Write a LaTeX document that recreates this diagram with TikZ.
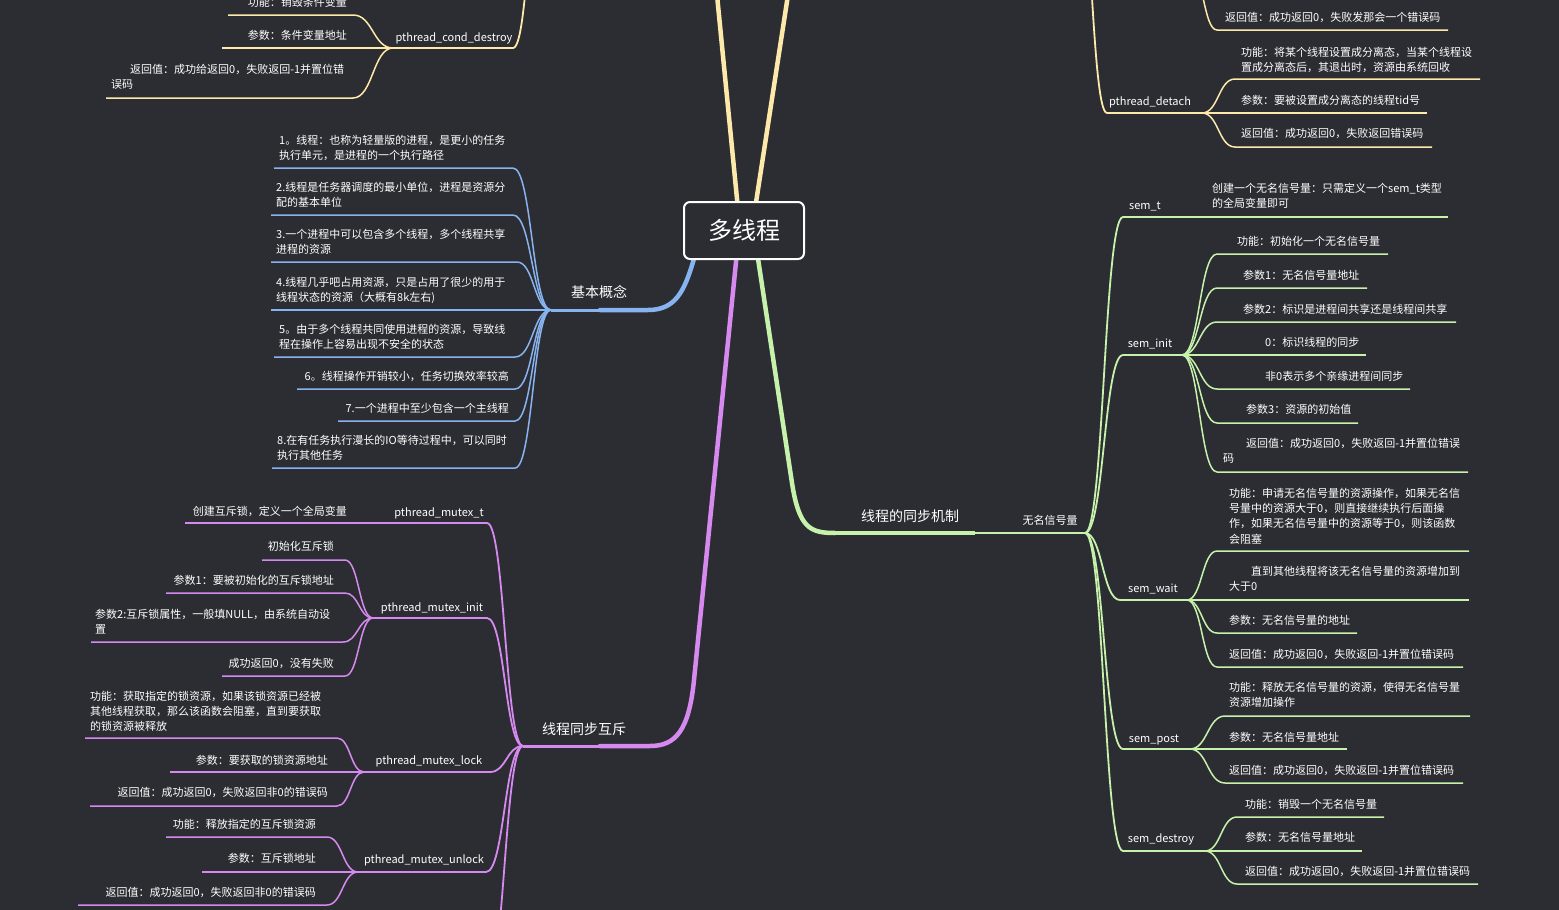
\documentclass[tikz,border=0pt]{standalone}
\usepackage{fontspec}
\setmainfont{Noto Sans CJK SC}
\usetikzlibrary{calc}
\definecolor{bg}{RGB}{44,45,50}
\definecolor{cy}{RGB}{253,234,170}
\definecolor{cb}{RGB}{135,180,240}
\definecolor{cp}{RGB}{214,138,240}
\definecolor{cg}{RGB}{198,242,172}
\pgfdeclarelayer{back}
\pgfdeclarelayer{lines}
\pgfsetlayers{back,lines,main}
\tikzset{
  tx/.style={inner sep=0pt,text=white,font=\fontsize{11}{15.3}\selectfont,yshift=6.65pt},
  tl/.style={tx,anchor=north west,align=left},
  tr/.style={tx,anchor=north east,align=left},
  tc/.style={tx,anchor=north},
  bigl/.style={inner sep=0pt,text=white,font=\fontsize{14}{17}\selectfont,anchor=north,yshift=6.6pt},
  trunk/.style={line width=4.5pt,line cap=round},
  sub/.style={line width=1.8pt},
  lf/.style={line width=1.5pt},
}
\newcommand\mmlink[3][]{\draw[#1] let \p1=(#2),\p2=(#3) in (#2) .. controls ({(\x1+\x2)/2},\y1) and ({(\x1+\x2)/2},\y2) .. (#3);}
\newcommand\mmleaf[6][]{\coordinate (#3a) at (#4,#6);\coordinate (#3b) at (#5,#6);%
  \draw[lf,#1] let \p1=(#2),\p2=(#3a) in (#2) .. controls ({(\x1+\x2)/2},\y1) and ({(\x1+\x2)/2},\y2) .. (#3a) -- (#3b);}
\begin{document}
\begin{tikzpicture}[x=1pt,y=-1pt]
\begin{pgfonlayer}{back}
\fill[bg] (0,0) rectangle (1559,910);
\end{pgfonlayer}
\useasboundingbox (0,0) rectangle (1559,910);
\clip (0,0) rectangle (1559,910);

% root
\node[draw=white,line width=2pt,rounded corners=6pt,fill=bg,minimum width=120pt,minimum height=57pt,inner sep=0pt,text=white,font=\fontsize{24}{28}\selectfont] (root) at (744,230.5) {多线程};

\begin{pgfonlayer}{lines}
% ---------- yellow trunks ----------
\coordinate (yB) at (717,-5);
\coordinate (yD) at (788,-5);
\draw[cy,trunk] ($(root.north)+(-6,8)$) -- (yB);
\draw[cy,trunk] ($(root.north)+(11,8)$) -- (yD);

% ---------- blue trunk ----------
\coordinate (bB) at (693,262);
\coordinate (bC) at (648,310);
\coordinate (bD) at (600,310);
\coordinate (bJ) at (551,310);
\draw[cb,trunk] ($(root.south)+(-48,-8)$) -- (bB) .. controls (684,292) and (675,310) .. (bC) -- (bD);
\draw[cb,line width=3pt] (bD) -- (bJ);

% ---------- purple trunk ----------
\coordinate (pB) at (694,680);
\coordinate (pC) at (650,746);
\coordinate (pD) at (600,746);
\coordinate (pJ) at (523,746);
\draw[cp,trunk] ($(root.south)+(-7,-8)$) -- (pB) .. controls (689,730) and (676,746) .. (pC) -- (pD);
\draw[cp,line width=3pt] (pD) -- (pJ);

% ---------- green trunk ----------
\coordinate (gB) at (792,483);
\coordinate (gC) at (835,533);
\coordinate (gD) at (975,533);
\coordinate (gJ) at (1085,533);
\draw[cg,trunk] ($(root.south)+(13,-8)$) -- (gB) .. controls (799,528) and (810,533) .. (gC);
\draw[cg,line width=3.5pt] (gC) -- (gD);
\draw[cg,sub] (gD) -- (gJ);
\end{pgfonlayer}

% ---------- yellow, top left ----------
\coordinate (yHL) at (545,-150);
\mmleaf[cy,sub]{yHL}{cd}{513}{393}{48}
\node[tc] (cdL) at (454,37) {\strut pthread\_cond\_destroy};
\mmleaf[cy]{cdb}{c1}{353}{228}{15}
\node[tr] (c1t) at (347,2) {\strut 功能：销毁条件变量};
\mmleaf[cy]{cdb}{c2}{393}{222}{48}
\node[tr] (c2t) at (347,35) {\strut 参数：条件变量地址};
\mmleaf[cy]{cdb}{c3}{353}{106}{98}
\node[tl] (c3t) at (111,69) {\strut\hspace*{19pt}返回值：成功给返回0，失败返回-1并置位错\\误码};

% ---------- blue ----------
\node[bigl] (bL) at (599,292) {\strut 基本概念};
\mmleaf[cb]{bJ}{b1}{513}{274}{168}
\node[tl] (b1t) at (279,140) {\strut 1。线程：也称为轻量版的进程，是更小的任务\\执行单元，是进程的一个执行路径};
\mmleaf[cb]{bJ}{b2}{513}{271}{215}
\node[tl] (b2t) at (276,187) {\strut 2.线程是任务器调度的最小单位，进程是资源分\\配的基本单位};
\mmleaf[cb]{bJ}{b3}{517}{271}{262}
\node[tl] (b3t) at (276,234) {\strut 3.一个进程中可以包含多个线程，多个线程共享\\进程的资源};
\mmleaf[cb]{bJ}{b4}{551}{271}{310}
\node[tl] (b4t) at (276,282) {\strut 4.线程几乎吧占用资源，只是占用了很少的用于\\线程状态的资源（大概有8k左右)};
\mmleaf[cb]{bJ}{b5}{515}{274}{357}
\node[tl] (b5t) at (279,329) {\strut 5。由于多个线程共同使用进程的资源，导致线\\程在操作上容易出现不安全的状态};
\mmleaf[cb]{bJ}{b6}{515}{297}{389}
\node[tr] (b6t) at (509,376) {\strut 6。线程操作开销较小，任务切换效率较高};
\mmleaf[cb]{bJ}{b7}{515}{338}{421}
\node[tr] (b7t) at (509,408) {\strut 7.一个进程中至少包含一个主线程};
\mmleaf[cb]{bJ}{b8}{515}{272}{468}
\node[tl] (b8t) at (277,440) {\strut 8.在有任务执行漫长的IO等待过程中，可以同时\\执行其他任务};

% ---------- purple ----------
\node[bigl] (pL) at (584,729) {\strut 线程同步互斥};
\mmleaf[cp,sub]{pJ}{mt}{487}{380}{523}
\node[tc] (mtL) at (439,512) {\strut pthread\_mutex\_t};
\mmleaf[cp]{mtb}{p1}{380}{185}{523}
\node[tr] (p1t) at (347,511) {\strut 创建互斥锁，定义一个全局变量};

\mmleaf[cp,sub]{pJ}{mi}{487}{373}{618}
\node[tc] (miL) at (432,607) {\strut pthread\_mutex\_init};
\mmleaf[cp]{mib}{p2}{345}{262}{560}
\node[tr] (p2t) at (334,546) {\strut 初始化互斥锁};
\mmleaf[cp]{mib}{p3}{345}{166}{593}
\node[tr] (p3t) at (334,580) {\strut 参数1：要被初始化的互斥锁地址};
\mmleaf[cp]{mib}{p4}{343}{91}{642}
\node[tl] (p4t) at (95,614) {\strut 参数2:互斥锁属性，一般填NULL，由系统自动设\\置};
\mmleaf[cp]{mib}{p5}{345}{222}{676}
\node[tr] (p5t) at (334,663) {\strut 成功返回0，没有失败};

\mmleaf[cp,sub]{pJ}{ml}{490}{364}{772}
\node[tc] (mlL) at (429,760) {\strut pthread\_mutex\_lock};
\mmleaf[cp]{mlb}{p6}{337}{85}{738}
\node[tl] (p6t) at (90,696) {\strut 功能：获取指定的锁资源，如果该锁资源已经被\\其他线程获取，那么该函数会阻塞，直到要获取\\的锁资源被释放};
\mmleaf[cp]{mlb}{p7}{364}{170}{772}
\node[tr] (p7t) at (328,760) {\strut 参数：要获取的锁资源地址};
\mmleaf[cp]{mlb}{p8}{337}{90}{806}
\node[tr] (p8t) at (328,792) {\strut 返回值：成功返回0，失败返回非0的错误码};

\mmleaf[cp,sub]{pJ}{mu}{486}{358}{872}
\node[tc] (muL) at (424,859) {\strut pthread\_mutex\_unlock};
\mmleaf[cp]{mub}{p9}{327}{166}{837}
\node[tr] (p9t) at (316,824) {\strut 功能：释放指定的互斥锁资源};
\mmleaf[cp]{mub}{p10}{358}{202}{872}
\node[tr] (p10t) at (316,858) {\strut 参数：互斥锁地址};
\mmleaf[cp]{mub}{p11}{327}{78}{905}
\node[tr] (p11t) at (316,892) {\strut 返回值：成功返回0，失败返回非0的错误码};
\coordinate (mx) at (486,985);
\mmlink[cp,sub]{pJ}{mx}

% ---------- green ----------
\node[bigl] (gL) at (910,516) {\strut 线程的同步机制};
\node[tc] (gsL) at (1050,520) {\strut 无名信号量};

\mmleaf[cg,sub]{gJ}{st}{1123}{1200}{217}
\node[tc] (stL) at (1145,205) {\strut sem\_t};
\mmleaf[cg]{stb}{g0}{1200}{1448}{217}
\node[tl] (g0t) at (1212,188) {\strut 创建一个无名信号量：只需定义一个sem\_t类型\\的全局变量即可};

\mmleaf[cg,sub]{gJ}{si}{1123}{1182}{355}
\node[tc] (siL) at (1150,343) {\strut sem\_init};
\mmleaf[cg]{sib}{g1}{1217}{1388}{254}
\node[tl] (g1t) at (1237,241) {\strut 功能：初始化一个无名信号量};
\mmleaf[cg]{sib}{g2}{1217}{1367}{288}
\node[tl] (g2t) at (1243,275) {\strut 参数1：无名信号量地址};
\mmleaf[cg]{sib}{g3}{1217}{1456}{322}
\node[tl] (g3t) at (1243,309) {\strut 参数2：标识是进程间共享还是线程间共享};
\mmleaf[cg]{sib}{g4}{1182}{1366}{355}
\node[tl] (g4t) at (1265,342) {\strut 0：标识线程的同步};
\mmleaf[cg]{sib}{g5}{1217}{1410}{389}
\node[tl] (g5t) at (1265,376) {\strut 非0表示多个亲缘进程间同步};
\mmleaf[cg]{sib}{g6}{1217}{1358}{423}
\node[tl] (g6t) at (1246,409) {\strut 参数3：资源的初始值};
\mmleaf[cg]{sib}{g7}{1217}{1468}{472}
\node[tl] (g7t) at (1223,443) {\strut\hspace*{23pt}返回值：成功返回0，失败返回-1并置位错误\\码};

\mmleaf[cg,sub]{gJ}{sw}{1120}{1187}{600}
\node[tc] (swL) at (1153,588) {\strut sem\_wait};
\mmleaf[cg]{swb}{g8}{1217}{1469}{551}
\node[tl] (g8t) at (1229,493) {\strut 功能：申请无名信号量的资源操作，如果无名信\\号量中的资源大于0，则直接继续执行后面操\\作，如果无名信号量中的资源等于0，则该函数\\会阻塞};
\mmleaf[cg]{swb}{g9}{1187}{1469}{600}
\node[tl] (g9t) at (1229,571) {\strut\hspace*{22pt}直到其他线程将该无名信号量的资源增加到\\大于0};
\mmleaf[cg]{swb}{g10}{1217}{1357}{633}
\node[tl] (g10t) at (1229,620) {\strut 参数：无名信号量的地址};
\mmleaf[cg]{swb}{g11}{1217}{1463}{667}
\node[tl] (g11t) at (1229,654) {\strut 返回值：成功返回0，失败返回-1并置位错误码};

\mmleaf[cg,sub]{gJ}{sp}{1123}{1190}{749}
\node[tc] (spL) at (1154,738) {\strut sem\_post};
\mmleaf[cg]{spb}{g12}{1225}{1470}{716}
\node[tl] (g12t) at (1229,687) {\strut 功能：释放无名信号量的资源，使得无名信号量\\资源增加操作};
\mmleaf[cg]{spb}{g13}{1190}{1347}{749}
\node[tl] (g13t) at (1229,737) {\strut 参数：无名信号量地址};
\mmleaf[cg]{spb}{g14}{1225}{1463}{783}
\node[tl] (g14t) at (1229,770) {\strut 返回值：成功返回0，失败返回-1并置位错误码};

\mmleaf[cg,sub]{gJ}{sd}{1123}{1205}{851}
\node[tc] (sdL) at (1161,838) {\strut sem\_destroy};
\mmleaf[cg]{sdb}{g15}{1237}{1384}{817}
\node[tl] (g15t) at (1245,804) {\strut 功能：销毁一个无名信号量};
\mmleaf[cg]{sdb}{g16}{1205}{1362}{851}
\node[tl] (g16t) at (1245,837) {\strut 参数：无名信号量地址};
\mmleaf[cg]{sdb}{g17}{1237}{1478}{884}
\node[tl] (g17t) at (1245,871) {\strut 返回值：成功返回0，失败返回-1并置位错误码};

% ---------- yellow, top right ----------
\coordinate (yHR) at (1075,-150);
\coordinate (yHR2) at (1190,-30);
\mmleaf[cy]{yHR2}{y1}{1217}{1448}{30}
\node[tl] (y1t) at (1225,17) {\strut 返回值：成功返回0，失败发那会一个错误码};
\mmleaf[cy,sub]{yHR}{pd}{1107}{1202}{113}
\node[tc] (pdL) at (1150,101) {\strut pthread\_detach};
\mmleaf[cy]{pdb}{y2}{1235}{1480}{79}
\node[tl] (y2t) at (1241,52) {\strut 功能：将某个线程设置成分离态，当某个线程设\\置成分离态后，其退出时，资源由系统回收};
\mmleaf[cy]{pdb}{y3}{1202}{1427}{113}
\node[tl] (y3t) at (1241,100) {\strut 参数：要被设置成分离态的线程tid号};
\mmleaf[cy]{pdb}{y4}{1235}{1432}{147}
\node[tl] (y4t) at (1241,133) {\strut 返回值：成功返回0，失败返回错误码};
\end{tikzpicture}
\end{document}
